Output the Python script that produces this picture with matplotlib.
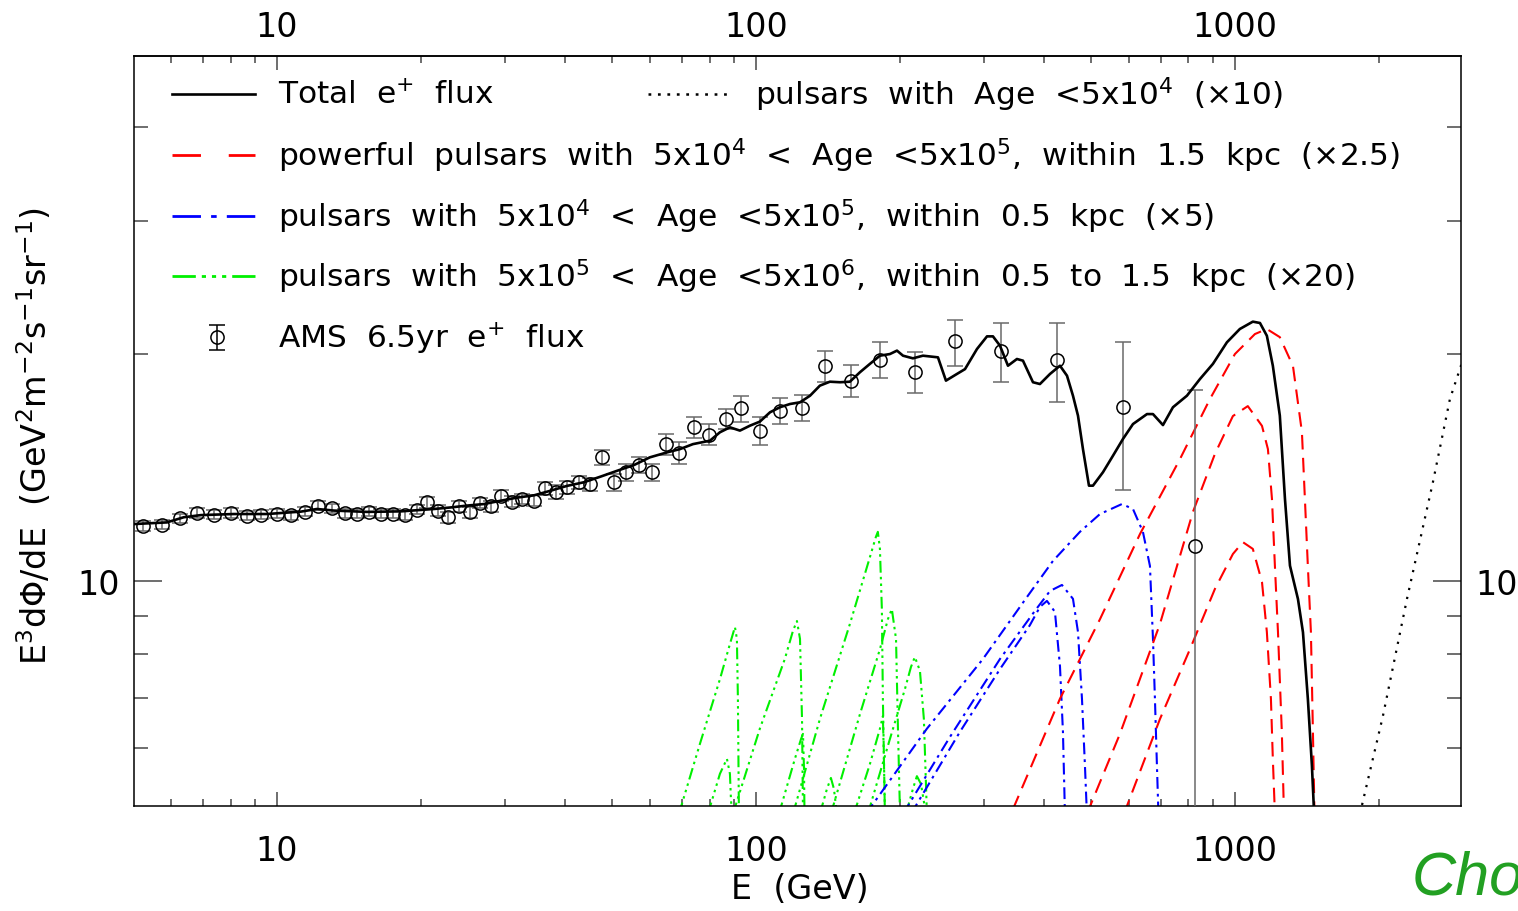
import matplotlib
matplotlib.use('Agg')
import matplotlib.pyplot as plt
from matplotlib.ticker import FixedLocator, LogLocator, NullFormatter, FuncFormatter

plt.rcParams['font.family'] = ['DejaVu Sans']
plt.rcParams['mathtext.fontset'] = 'dejavusans'
plt.rcParams['lines.scale_dashes'] = False

# ---------------- data ----------------
ams_E = [5.26, 5.76, 6.27, 6.82, 7.38, 8.00, 8.64, 9.27, 10.0, 10.68,
         11.43, 12.18, 13.02, 13.84, 14.71, 15.58, 16.51, 17.49, 18.53, 19.57,
         20.57, 21.71, 22.79, 24.02, 25.29, 26.53, 27.93, 29.40, 30.95, 32.55,
         34.40, 36.27, 38.24, 40.25, 42.77, 45.13, 47.81, 50.60, 53.65, 56.98,
         60.79, 64.87, 69.22, 74.23, 79.79, 86.58, 93.27, 101.9, 112.2, 124.5,
         139.3, 157.7, 181.5, 214.7, 260.3, 324.3, 424.4, 584.8, 825.0]
ams_F = [11.83, 11.88, 12.11, 12.31, 12.24, 12.31, 12.21, 12.24, 12.28, 12.23,
         12.36, 12.58, 12.48, 12.30, 12.28, 12.36, 12.28, 12.28, 12.23, 12.43,
         12.72, 12.40, 12.15, 12.56, 12.33, 12.69, 12.56, 12.98, 12.74, 12.85,
         12.78, 13.27, 13.13, 13.31, 13.52, 13.44, 14.59, 13.52, 13.94, 14.25,
         13.94, 15.19, 14.78, 15.99, 15.63, 16.40, 16.94, 15.81, 16.82, 16.96,
         19.27, 18.44, 19.66, 18.92, 20.83, 20.17, 19.64, 17.00, 11.14]
ams_err_lo = [0.17, 0.17, 0.17, 0.17, 0.17, 0.17, 0.17, 0.17, 0.17, 0.17,
              0.17, 0.17, 0.17, 0.17, 0.17, 0.17, 0.17, 0.17, 0.17, 0.17,
              0.21, 0.21, 0.21, 0.21, 0.21, 0.21, 0.21, 0.21, 0.21, 0.21,
              0.21, 0.27, 0.27, 0.27, 0.27, 0.27, 0.35, 0.35, 0.35, 0.35,
              0.35, 0.50, 0.50, 0.50, 0.50, 0.50, 0.68, 0.68, 0.68, 0.68,
              0.90, 0.92, 1.07, 1.18, 1.53, 1.82, 2.38, 3.78, 8.50]
ams_err_hi = [0.17, 0.17, 0.17, 0.17, 0.17, 0.17, 0.17, 0.17, 0.17, 0.17,
              0.17, 0.17, 0.17, 0.17, 0.17, 0.17, 0.17, 0.17, 0.17, 0.17,
              0.21, 0.21, 0.21, 0.21, 0.21, 0.21, 0.21, 0.21, 0.21, 0.21,
              0.21, 0.27, 0.27, 0.27, 0.27, 0.27, 0.35, 0.35, 0.35, 0.35,
              0.35, 0.50, 0.50, 0.50, 0.50, 0.50, 0.68, 0.68, 0.68, 0.68,
              0.90, 0.92, 1.07, 1.19, 1.39, 1.80, 2.33, 3.73, 6.78]

total_E = [5.03, 5.89, 6.39, 6.94, 8.13, 9.53, 11.22, 12.12, 13.15, 15.41,
           18.15, 21.27, 23.08, 24.93, 27.05, 29.35, 31.70, 34.40, 37.33, 40.31,
           43.74, 47.47, 51.27, 55.64, 60.07, 65.19, 69.40, 73.87, 80.17, 84.11,
           88.25, 92.60, 97.16, 101.9, 107.0, 112.2, 117.8, 123.6, 129.7, 136.0,
           142.7, 149.8, 157.1, 164.9, 173.0, 181.5, 190.4, 197.0, 202.8, 212.7,
           223.2, 239.9, 249.3, 262.8, 273.2, 289.4, 303.7, 312.5, 323.2, 335.9,
           350.7, 361.0, 378.8, 391.7, 411.1, 431.3, 446.1, 459.1, 470.3, 481.7,
           495.8, 505.4, 530.3, 556.4, 583.8, 612.6, 655.3, 674.4, 707.6, 742.4,
           794.0, 845.3, 899.8, 962.3, 1024, 1090, 1128, 1166, 1200, 1241,
           1272, 1303, 1354, 1387, 1420, 1448, 1462]
total_F = [11.90, 11.96, 12.15, 12.23, 12.27, 12.27, 12.36, 12.46, 12.40, 12.35,
           12.37, 12.46, 12.52, 12.59, 12.65, 12.78, 12.90, 12.99, 13.18, 13.37,
           13.52, 13.76, 14.00, 14.25, 14.59, 14.81, 14.96, 15.19, 15.35, 15.75,
           15.99, 15.83, 16.07, 16.27, 16.74, 17.00, 17.17, 17.26, 17.61, 18.16,
           18.38, 18.35, 18.38, 18.92, 19.41, 19.90, 20.00, 20.21, 19.90, 19.74,
           19.90, 19.80, 18.44, 18.82, 19.10, 20.31, 21.11, 21.11, 20.52, 19.30,
           19.70, 19.60, 18.35, 18.25, 18.82, 19.30, 18.72, 17.61, 16.57, 14.96,
           13.38, 13.38, 13.94, 14.66, 15.43, 16.15, 16.65, 16.65, 16.10, 17.00,
           17.61, 18.53, 19.41, 20.73, 21.59, 22.08, 21.99, 21.15, 19.30, 16.57,
           12.85, 10.48, 9.465, 8.55, 6.98, 5.69, 4.98]

# young pulsars (<5e4 yr, x10) - black dotted
young_E = [1824, 2037, 2287, 2591, 2811, 2963, 3094]
young_F = [4.91, 6.62, 9.47, 13.53, 17.43, 19.28, 21.59]

# powerful pulsars (x2.5) - red dashed
red_E = [
    [344.0, 431.3, 522.8, 633.5, 767.8, 886.8, 1000, 1101, 1166, 1241, 1322,
     1380, 1400, 1420, 1441, 1455, 1466],
    [490.9, 575.4, 697.4, 817.3, 908.3, 990.4, 1064, 1139, 1172, 1195, 1212,
     1230, 1253, 1266],
    [586.6, 697.4, 805.7, 908.3, 990.4, 1039, 1090, 1139, 1166, 1189, 1200, 1212],
]
red_F = [
    [4.98, 6.98, 8.90, 11.54, 14.51, 17.43, 20.00, 21.26, 21.59, 21.06, 19.28,
     15.76, 12.85, 10.47, 8.56, 6.31, 4.91],
    [4.91, 6.27, 8.77, 12.35, 14.74, 16.55, 17.06, 16.06, 14.96, 12.85, 10.47,
     8.56, 6.31, 4.91],
    [4.91, 6.56, 8.12, 9.76, 10.86, 11.26, 11.03, 9.97, 8.56, 6.98, 5.81, 4.91],
]

# pulsars within 0.5 kpc (x5) - blue dash-dot
blue_E = [
    [169.7, 227.5, 297.8, 367.9, 416.9, 474.7, 522.8, 581.0, 612.6, 642.6,
     664.7, 674.4, 680.8, 687.4, 692.4],
    [202.8, 254.1, 323.2, 382.4, 411.1, 435.4, 459.1, 470.3, 479.4, 486.3, 490.9],
    [210.7, 266.7, 323.2, 373.3, 391.7, 405.1, 421.0, 431.3, 437.5, 441.7],
]
blue_F = [
    [4.91, 6.37, 7.88, 9.52, 10.63, 11.62, 12.27, 12.65, 12.46, 11.62,
     10.47, 8.38, 6.98, 5.69, 4.91],
    [4.91, 6.21, 7.88, 9.13, 9.70, 9.88, 9.47, 8.56, 6.98, 5.69, 4.91],
    [4.91, 6.31, 7.64, 8.74, 9.24, 9.41, 9.10, 7.71, 6.31, 4.91],
]

# old pulsars 0.5-1.5 kpc (x20) - green dash-dot-dot-dot
green_E = [
    [69.06, 76.39, 84.11, 88.25, 90.40, 91.26, 91.70, 92.15],
    [79.39, 84.11, 86.99, 88.25, 88.68, 89.11],
    [89.54, 101.9, 114.9, 119.5, 121.8, 123.6, 124.8, 125.4],
    [136.0, 140.7, 143.4, 145.5, 147.6],
    [119.5, 136.0, 157.1, 173.0, 178.0, 179.7, 181.5, 183.2, 184.1, 185.9],
    [143.4, 164.9, 181.5, 188.6, 192.2, 196.1, 198.0, 199.9],
    [171.3, 190.4, 204.7, 210.7, 214.7, 220.0, 224.2, 227.5],
    [205.7, 212.7, 216.8, 221.1, 226.4],
    [160.2, 173.0, 181.5, 184.1, 185.0, 185.9],
    [111.7, 120.6, 124.2, 125.4, 126.0, 126.3],
]
green_F = [
    [4.91, 6.08, 7.41, 8.25, 8.69, 8.38, 6.98, 4.91],
    [4.91, 5.55, 5.81, 5.55, 5.14, 4.91],
    [4.91, 6.37, 7.88, 8.59, 8.85, 8.38, 6.56, 4.91],
    [4.91, 5.30, 5.48, 5.30, 4.91],
    [4.91, 6.56, 8.77, 10.76, 11.44, 11.62, 11.03, 9.18, 6.98, 4.91],
    [4.91, 6.66, 8.12, 8.90, 9.18, 8.38, 6.31, 4.91],
    [4.91, 6.17, 7.19, 7.69, 7.93, 7.60, 6.56, 4.91],
    [4.91, 5.30, 5.51, 5.38, 4.91],
    [4.91, 5.72, 6.37, 6.62, 5.81, 4.91],
    [4.91, 5.81, 6.17, 6.27, 5.63, 4.91],
]

x_ticks = [10, 100, 1000]
y_ticks = [10]

legend_labels = [
    r'Total  e$^{+}$  flux',
    r'pulsars  with  Age  <5x10$^{4}$  (×10)',
    r'powerful  pulsars  with  5x10$^{4}$  <  Age  <5x10$^{5}$,  within  1.5  kpc  (×2.5)',
    r'pulsars  with  5x10$^{4}$  <  Age  <5x10$^{5}$,  within  0.5  kpc  (×5)',
    r'pulsars  with  5x10$^{5}$  <  Age  <5x10$^{6}$,  within  0.5  to  1.5  kpc  (×20)',
    r'AMS  6.5yr  e$^{+}$  flux',
]

RED = '#ff0000'
BLUE = '#0000ff'
GREEN = '#00f000'
red_dash = (10.5, 6.0)
blue_dash = (8.5, 3.6, 2.0, 3.6)
green_dash = (8.5, 3.0, 1.8, 3.0, 1.8, 3.0, 1.8, 3.0)

# ---------------- figure ----------------
fig = plt.figure(figsize=(15.18, 9.12), dpi=100)
ax = fig.add_axes([134 / 1518, 1 - 807 / 912, (1461 - 134) / 1518, (807 - 57) / 912])
ax.set_xscale('log')
ax.set_yscale('log')
ax.set_xlim(5.03, 2965)
ax.set_ylim(5.03, 49.7)

for E, F in zip(green_E, green_F):
    ax.plot(E, F, color=GREEN, lw=1.5, dashes=green_dash)
for E, F in zip(blue_E, blue_F):
    ax.plot(E, F, color=BLUE, lw=1.5, dashes=blue_dash)
for E, F in zip(red_E, red_F):
    ax.plot(E, F, color=RED, lw=1.5, dashes=red_dash)
ax.plot(young_E, young_F, color='black', lw=1.6, dashes=(1.6, 5.0))

ax.errorbar(ams_E, ams_F, yerr=[ams_err_lo, ams_err_hi], fmt='none',
            ecolor='#6a6a6a', elinewidth=1.1, capsize=6, capthick=1.1, zorder=3)
ax.plot(ams_E, ams_F, 'o', ms=9.5, mfc='none', mec='black', mew=1.1, zorder=4)
ax.plot(total_E, total_F, color='black', lw=1.9, zorder=5)

# ---------------- axes styling ----------------
for s in ax.spines.values():
    s.set_linewidth(1.1)
fmt = FuncFormatter(lambda v, p: f'{v:g}')

def style_x(axis_obj):
    axis_obj.set_major_locator(FixedLocator(x_ticks))
    axis_obj.set_minor_locator(LogLocator(base=10, subs=range(2, 10)))
    axis_obj.set_major_formatter(fmt)
    axis_obj.set_minor_formatter(NullFormatter())

style_x(ax.xaxis)
ax.yaxis.set_major_locator(FixedLocator(y_ticks))
ax.yaxis.set_minor_locator(LogLocator(base=10, subs=range(2, 10)))
ax.yaxis.set_major_formatter(fmt)
ax.yaxis.set_minor_formatter(NullFormatter())

ax.tick_params(which='both', direction='in', top=False, right=True,
               colors='#555555', labelcolor='black', width=1.2)
ax.tick_params(axis='x', which='major', length=10, labelsize=24, pad=20)
ax.tick_params(axis='x', which='minor', length=5)
ax.tick_params(axis='y', which='major', length=20, labelsize=24, pad=10,
               labelright=True)
ax.tick_params(axis='y', which='minor', length=10)

sec = ax.secondary_xaxis('top')
style_x(sec.xaxis)
sec.spines['top'].set_linewidth(1.1)
sec.tick_params(which='both', direction='in', colors='#555555',
                labelcolor='black', width=1.2)
sec.tick_params(which='major', length=10, labelsize=24, pad=9)
sec.tick_params(which='minor', length=5)

fig.text(800 / 1518, 1 - 890 / 912, 'E  (GeV)', fontsize=24, ha='center', va='center')
fig.text(35 / 1518, 1 - 436 / 912,
         r'E$^{3}$d$\Phi$/dE  (GeV$^{2}$m$^{-2}$s$^{-1}$sr$^{-1}$)',
         fontsize=24, rotation=90, ha='center', va='center')

# ---------------- legend (drawn in axes coordinates) ----------------
tr = ax.transAxes
def axx(px):
    return (px - 134) / 1327.0
def axy(py):
    return (807 - py) / 750.0

fs_leg = 22.5
ax.plot([axx(172), axx(255)], [axy(95)] * 2, color='black', lw=1.9, transform=tr)
ax.text(axx(278), axy(95), legend_labels[0], fontsize=fs_leg, va='center', transform=tr)
ax.plot([axx(648), axx(733)], [axy(95)] * 2, color='black', lw=1.8,
        dashes=(2.0, 4.8), transform=tr)
ax.text(axx(755), axy(95), legend_labels[1], fontsize=fs_leg, va='center', transform=tr)
ax.plot([axx(172), axx(255)], [axy(156)] * 2, color=RED, lw=2.0,
        dashes=(20.5, 20), transform=tr)
ax.text(axx(278), axy(156), legend_labels[2], fontsize=fs_leg, va='center', transform=tr)
ax.plot([axx(172), axx(255)], [axy(217)] * 2, color=BLUE, lw=2.0,
        dashes=(20.5, 7.3, 4, 7.3), transform=tr)
ax.text(axx(278), axy(217), legend_labels[3], fontsize=fs_leg, va='center', transform=tr)
ax.plot([axx(172), axx(255)], [axy(277)] * 2, color=GREEN, lw=2.0,
        dashes=(16.8, 4.3, 3, 4.3, 3, 4.3, 3, 4.3), transform=tr)
ax.text(axx(278), axy(277), legend_labels[4], fontsize=fs_leg, va='center', transform=tr)
ax.errorbar([axx(217)], [axy(338)], yerr=[[12.5 / 750], [12.5 / 750]], fmt='none',
            ecolor='black', elinewidth=1.1, capsize=6, capthick=1.1, transform=tr)
ax.plot([axx(217)], [axy(338)], 'o', ms=9.5, mfc='none', mec='black', mew=1.1,
        transform=tr)
ax.text(axx(278), axy(338), legend_labels[5], fontsize=fs_leg, va='center', transform=tr)

fig.text(1412 / 1518, 1 - 895 / 912, 'Cho', fontsize=44, style='italic',
         color='#22a022', family=['Liberation Sans', 'DejaVu Sans'],
         ha='left', va='baseline')

fig.savefig('out.png', dpi=100)
